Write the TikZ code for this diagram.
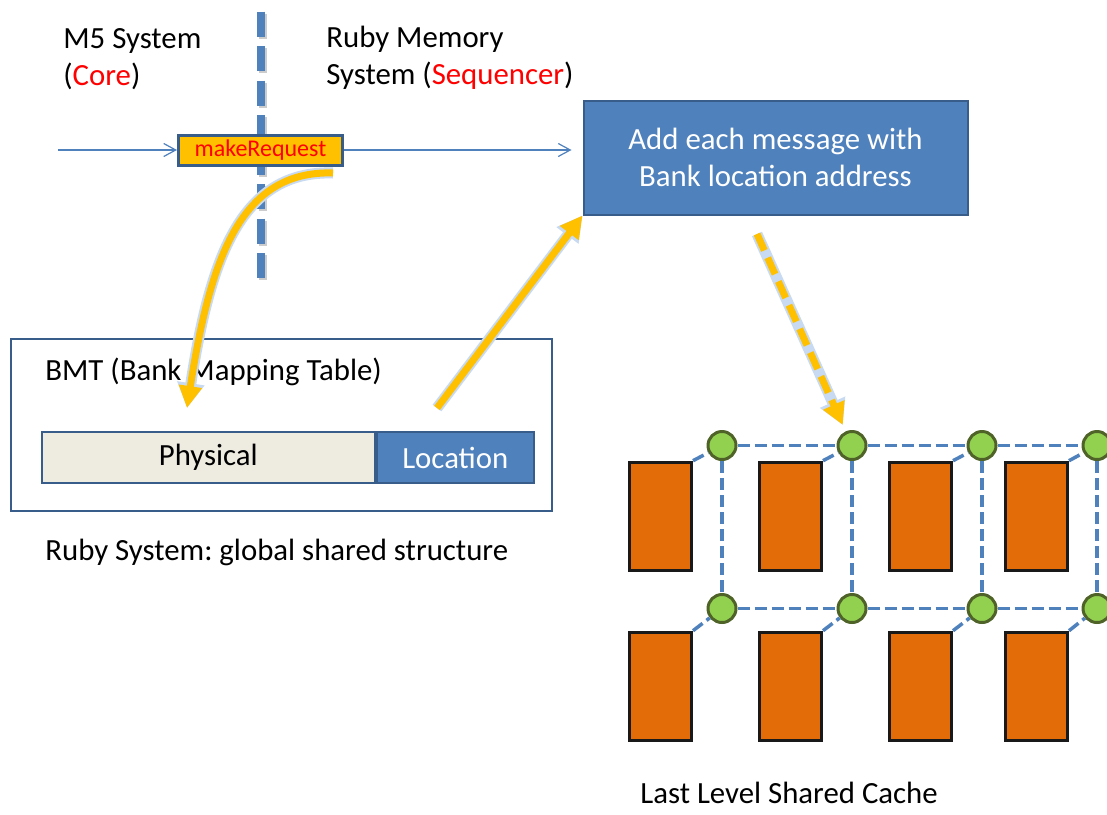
\documentclass[tikz,border=0pt]{standalone}
\usepackage{fontspec}
\setmainfont{Carlito}
\usepackage{tikz}
\usetikzlibrary{arrows.meta, positioning, shapes.geometric}
\frenchspacing

\definecolor{ppblue}{RGB}{79,129,189}
\definecolor{ppborder}{RGB}{56,93,138}
\definecolor{ppgold}{RGB}{255,192,0}
\definecolor{pporange}{RGB}{227,108,9}
\definecolor{ppgreen}{RGB}{146,208,80}
\definecolor{ppolive}{RGB}{79,98,40}
\definecolor{pptan}{RGB}{238,236,225}
\definecolor{glowblue}{RGB}{200,218,241}

\begin{document}
\begin{tikzpicture}[
  x=0.5pt, y=-0.5pt,
  font=\fontsize{15.4}{18.5}\selectfont,
  txt/.style={inner sep=0pt, anchor=base west, align=left},
  cell/.style={draw=ppborder, line width=1pt, minimum height=25.8pt, inner sep=0pt},
  router/.style={circle, draw=ppolive, line width=1.5pt, fill=ppgreen, minimum size=14pt, inner sep=0pt},
  bank/.style={draw=black!90, line width=1.5pt, fill=pporange, minimum width=31pt, minimum height=54pt, inner sep=0pt},
  link/.style={draw=ppblue, line width=1.75pt, dash pattern=on 6pt off 2.5pt},
  thinarrow/.style={draw=ppblue, line width=0.6pt, -{Straight Barb[length=6pt,width=6.5pt]}},
  goldarrow/.style={draw=ppgold, line width=3.5pt, -{Triangle[length=11pt,width=11pt]},
    preaction={draw=glowblue, line width=5.5pt, -{Triangle[length=12.5pt,width=13pt]}}},
  divider/.style={line width=4pt, dash pattern=on 12.5pt off 4.75pt}
]
\useasboundingbox[fill=white] (0,0) rectangle (1107,814);

% Labels
\node[txt] (m5) at (63,85.5) {M5 System\\(\textcolor{red}{Core})};
\node[txt] (ruby) at (326,84) {Ruby Memory\\System (\textcolor{red}{Sequencer})};
\node[txt] (bmttitle) at (45,380) {BMT (Bank Mapping Table)};
\node[txt] (rubysys) at (45,560) {Ruby System: global shared structure};
\node[txt] (llc) at (640,803) {Last Level Shared Cache};

% Boundary between the two systems
\draw[divider, black!20] (262.5,13.5) -- (262.5,281);
\draw[divider, ppblue] (260.7,11.7) -- (260.7,279);

% Boxes
\node[draw=ppborder, line width=1.5pt, fill=ppgold, text=red, minimum width=82pt, minimum height=15pt,
  inner sep=0pt, font=\fontsize{12}{14}\selectfont] (mr) at (260.5,150) {makeRequest};
\node[draw=ppborder, line width=1pt, fill=ppblue, text=white, minimum width=192pt, minimum height=57pt,
  align=center] (msg) at (775.5,157.5) {Add each message with\\Bank location address};
\node[draw=ppborder, line width=1pt, minimum width=270.5pt, minimum height=86pt] (bmt) at (281.2,425) {};
\node[cell, fill=pptan, minimum width=166.7pt] (phys) at (208.3,457.5) {Physical};
\node[cell, fill=ppblue, text=white, minimum width=78.3pt, right=0pt of phys] (loc) {Location};

% Cache banks and routers
\node[router] (r11) at (722,445.5) {};
\node[router] (r12) at (852,445.5) {};
\node[router] (r13) at (982,445.5) {};
\node[router] (r14) at (1097,445.5) {};
\node[router] (r21) at (722,608.5) {};
\node[router] (r22) at (852,608.5) {};
\node[router] (r23) at (982,608.5) {};
\node[router] (r24) at (1097,608.5) {};
\node[bank] (c11) at (660.5,516.2) {};
\node[bank] (c12) at (790.5,516.2) {};
\node[bank] (c13) at (920.5,516.2) {};
\node[bank] (c14) at (1036.5,516.2) {};
\node[bank] (c21) at (660.5,686.2) {};
\node[bank] (c22) at (790.5,686.2) {};
\node[bank] (c23) at (920.5,686.2) {};
\node[bank] (c24) at (1036.5,686.2) {};

% Mesh links
\draw[link] (r11) -- (r12) -- (r13) -- (r14);
\draw[link] (r21) -- (r22) -- (r23) -- (r24);
\draw[link] (r11) -- (r21);
\draw[link] (r12) -- (r22);
\draw[link] (r13) -- (r23);
\draw[link] (r14) -- (r24);
\draw[link] (c11.north east) -- (r11);
\draw[link] (c12.north east) -- (r12);
\draw[link] (c13.north east) -- (r13);
\draw[link] (c14.north east) -- (r14);
\draw[link] (c21.north east) -- (r21);
\draw[link] (c22.north east) -- (r22);
\draw[link] (c23.north east) -- (r23);
\draw[link] (c24.north east) -- (r24);

% Arrows
\coordinate (core) at (58,150);
\coordinate (grab) at (333,173);
\coordinate (lookup) at (187,408);
\coordinate (found) at (437,408);
\coordinate (send) at (757,234);
\draw[thinarrow] (core) -- (mr.west);
\draw[thinarrow, shorten >=5.5pt] (mr.east) -- (mr.east -| msg.west);
\draw[goldarrow] (grab) .. controls (240,170) and (210,260) .. (lookup);
\draw[goldarrow] (found) -- (msg.south west);
\draw[goldarrow, dash pattern=on 9pt off 4pt, shorten >=3.5pt] (send) -- (r12);

\end{tikzpicture}
\end{document}
